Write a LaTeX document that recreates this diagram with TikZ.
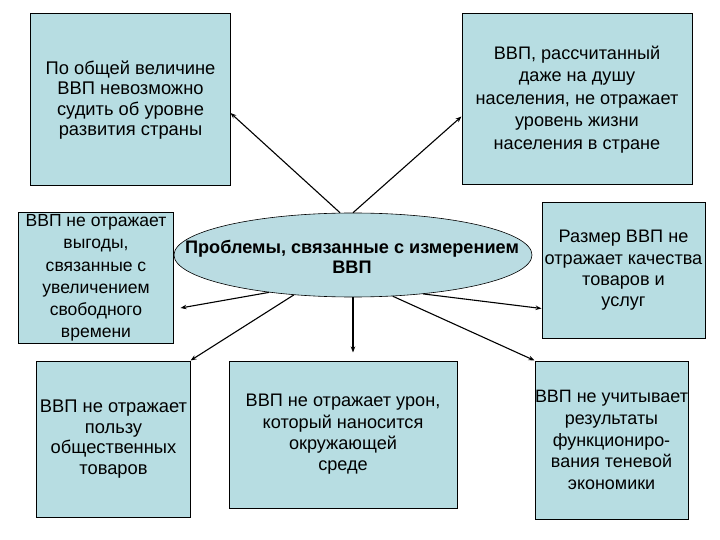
\documentclass[tikz,border=0pt]{standalone}
\usepackage{fontspec}
\setmainfont{Liberation Sans}
\usetikzlibrary{arrows.meta,shapes.geometric}

\definecolor{boxfill}{RGB}{183,221,226}
\definecolor{ellfill}{RGB}{186,220,226}

\tikzset{
  box/.style={draw=black, line width=1bp, fill=boxfill, inner sep=0pt,
    align=center, font=\fontsize{18.2}{21.5}\selectfont},
  arr/.style={line width=1.1bp, -{Stealth[length=6bp,width=4.5bp]}}
}

\begin{document}
\begin{tikzpicture}[x=1bp, y=-1bp]

\useasboundingbox (0,0) rectangle (720,540);

\node[box, minimum width=199bp, minimum height=172bp, font=\fontsize{18.4}{20.5}\selectfont] at (130.5,100) (size) {По общей величине\\ВВП невозможно\\судить об уровне\\развития страны};
\node[box, minimum width=230bp, minimum height=171bp, font=\fontsize{18.2}{22.5}\selectfont] at (577,99.5) (percap) {ВВП, рассчитанный\\даже на душу\\населения, не отражает\\уровень жизни\\населения в стране};
\node[box, minimum width=154bp, minimum height=130bp, font=\fontsize{17.6}{22.3}\selectfont] at (96,278) (leisure) {ВВП не отражает\\выгоды,\\связанные с\\увеличением\\свободного\\времени};
\node[box, minimum width=163bp, minimum height=135bp] at (623.5,270.5) (quality) {Размер ВВП не\\отражает качества\\товаров и\\услуг};
\node[box, minimum width=153bp, minimum height=156bp, font=\fontsize{18.4}{20.5}\selectfont] at (113.5,439) (public) {ВВП не отражает\\пользу\\общественных\\товаров};
\node[box, minimum width=228bp, minimum height=147bp] at (343,434.5) (ecology) {ВВП не отражает урон,\\который наносится\\окружающей\\среде};
\node[box, minimum width=153bp, minimum height=158bp, font=\fontsize{18}{21.7}\selectfont] at (611.5,440) (shadow) {ВВП не учитывает\\результаты\\функциониро-\\вания теневой\\экономики};

\node[ellipse, draw=black, line width=0.6bp, fill=ellfill, inner sep=0pt,
  minimum width=358bp, minimum height=84bp] at (353,255) (problem) {};
\node[align=center, inner sep=0pt, font=\bfseries\fontsize{18.2}{20.5}\selectfont]
  at (352,257) (problemtext) {Проблемы, связанные с измерением\\ВВП};

\draw[arr] (problem.107) -- ([yshift=-13bp]size.east);
\draw[arr] (problem.north) -- ([yshift=-17bp]percap.west);
\draw[arr] (problem.204) -- ([xshift=7bp,yshift=-30bp]leisure.east);
\draw[arr] (problem.214) -- (public.north east);
\draw[arr] (problem.south) -- ([yshift=8bp]problem.south |- ecology.north);
\draw[arr] (problem.314) -- (shadow.north west);
\draw[arr] (problem.331) -- ([yshift=-38bp]quality.west);

\end{tikzpicture}
\end{document}
